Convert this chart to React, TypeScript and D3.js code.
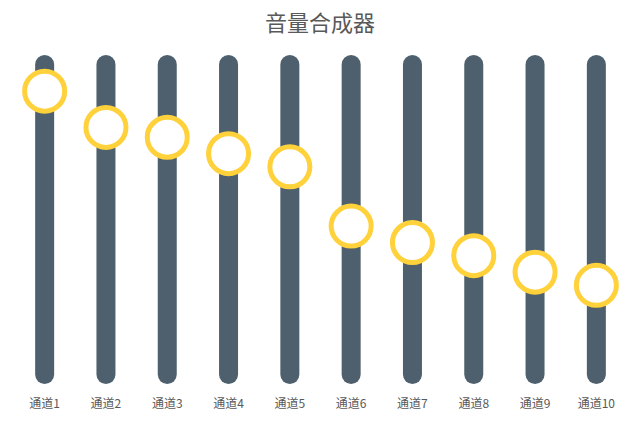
import React, { useEffect, useRef } from 'react';
import * as d3 from 'd3';

const channels = ['通道1', '通道2', '通道3', '通道4', '通道5', '通道6', '通道7', '通道8', '通道9', '通道10'];
const levels = [89, 78, 75, 70, 66, 48, 43, 39, 34, 30];
const maxLevel = 100;
const title = '音量合成器';

const W = 640;
const H = 422;
const FONT = '"Noto Sans CJK SC", "Noto Sans", sans-serif';

export default function App() {
  const svgRef = useRef<SVGSVGElement>(null);

  useEffect(() => {
    if (!svgRef.current) return;
    const svg = d3.select(svgRef.current);
    svg.selectAll('*').remove();

    const x = d3.scaleBand<string>().domain(channels).range([14, 627]);
    const y = d3.scaleLinear().domain([0, maxLevel]).range([384, 55]);
    const barW = 19;

    svg.append('rect').attr('width', W).attr('height', H).attr('fill', '#fff');

    svg.append('text')
      .attr('x', W / 2)
      .attr('y', 31)
      .attr('text-anchor', 'middle')
      .attr('font-family', FONT)
      .attr('font-size', 22)
      .attr('fill', '#595959')
      .text(title);

    // track bars
    svg.append('g')
      .selectAll('rect')
      .data(channels)
      .enter()
      .append('rect')
      .attr('x', d => (x(d) as number) + x.bandwidth() / 2 - barW / 2)
      .attr('y', y(maxLevel))
      .attr('width', barW)
      .attr('height', y(0) - y(maxLevel))
      .attr('rx', barW / 2)
      .attr('fill', '#4E606D');

    // knobs
    svg.append('g')
      .selectAll('circle')
      .data(levels)
      .enter()
      .append('circle')
      .attr('cx', (_, i) => (x(channels[i]) as number) + x.bandwidth() / 2)
      .attr('cy', d => y(d))
      .attr('r', 20)
      .attr('fill', '#fff')
      .attr('stroke', '#FFD13B')
      .attr('stroke-width', 5);

    // labels
    svg.append('g')
      .selectAll('text')
      .data(channels)
      .enter()
      .append('text')
      .attr('x', d => (x(d) as number) + x.bandwidth() / 2)
      .attr('y', 408)
      .attr('text-anchor', 'middle')
      .attr('font-family', FONT)
      .attr('font-size', 12)
      .attr('fill', '#595959')
      .text(d => d);
  }, []);

  return (
    <svg
      ref={svgRef}
      width={W}
      height={H}
      style={{ position: 'absolute', left: 0, top: 0 }}
    />
  );
}
